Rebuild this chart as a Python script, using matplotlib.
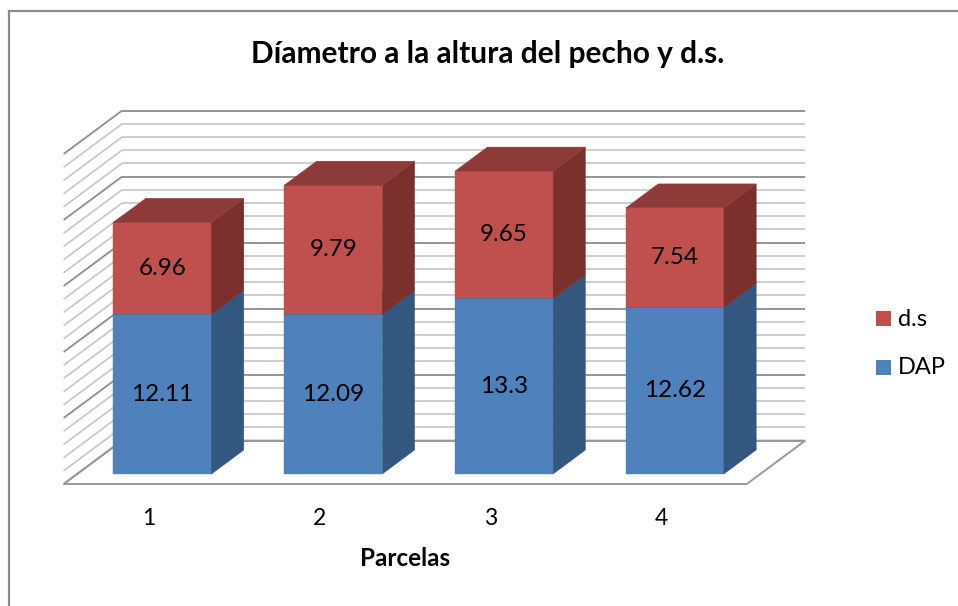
import matplotlib
matplotlib.use("Agg")
import matplotlib.pyplot as plt
from matplotlib.patches import Polygon, Rectangle
from matplotlib.lines import Line2D

plt.rcParams["font.family"] = ["Lato", "DejaVu Sans"]

parcelas = ["1", "2", "3", "4"]
dap = [12.11, 12.09, 13.3, 12.62]
ds = [6.96, 9.79, 9.65, 7.54]
series_names = ["DAP", "d.s"]
y_max = 25
title = "Díametro a la altura del pecho y d.s."
xlabel = "Parcelas"

W, H = 958, 606
# pixel scale of the plot: one category step and one value unit
PX_CAT = 170.8
PX_VAL = 13.2
X0_PX, Y0_PX = 162.5, 474.0

# oblique depth: one bar depth shifts this much in (category, value) units
DEPTH_DX = 32.3 / PX_CAT
DEPTH_DY = 24.0 / PX_VAL
FLOOR_FRONT = -0.417
FLOOR_BACK = 1.39
BAR_W = 0.574

blue = {"front": "#4F81BD", "side": "#34577F", "top": "#3F6797"}
red = {"front": "#C0504D", "side": "#7C302E", "top": "#8E3A38"}
grid_minor = "#C6C6C6"
grid_major = "#8E8E8E"


def proj(x, v, d):
    return (x + d * DEPTH_DX, v + d * DEPTH_DY)


def draw_box(ax, xc, v0, v1, colors, z):
    x0, x1 = xc - BAR_W / 2, xc + BAR_W / 2
    faces = [
        ([proj(x0, v0, 0), proj(x1, v0, 0), proj(x1, v1, 0), proj(x0, v1, 0)], colors["front"]),
        ([proj(x1, v0, 0), proj(x1, v0, 1), proj(x1, v1, 1), proj(x1, v1, 0)], colors["side"]),
        ([proj(x0, v1, 0), proj(x1, v1, 0), proj(x1, v1, 1), proj(x0, v1, 1)], colors["top"]),
    ]
    for pts, c in faces:
        ax.add_patch(Polygon(pts, closed=True, facecolor=c, edgecolor=c, lw=0.3, zorder=z))


fig = plt.figure(figsize=(W / 100, H / 100), dpi=100)
ax = fig.add_axes([0, 0, 1, 1])
ax.set_xlim(1 - X0_PX / PX_CAT, 1 + (W - X0_PX) / PX_CAT)
ax.set_ylim((Y0_PX - H) / PX_VAL, Y0_PX / PX_VAL)
ax.axis("off")

# walls: back and left gridlines
for v in range(0, y_max + 1):
    col = grid_major if v % 5 == 0 else grid_minor
    lw = 1.3 if v % 5 == 0 else 1.2
    bx = [proj(0.5, v, FLOOR_BACK), proj(4.5, v, FLOOR_BACK)]
    lx = [proj(0.5, v, FLOOR_FRONT), proj(0.5, v, FLOOR_BACK)]
    for seg in (bx, lx):
        ax.plot([p[0] for p in seg], [p[1] for p in seg], color=col, lw=lw,
                solid_capstyle="butt", zorder=1)

# floor outline
floor = [proj(0.5, 0, FLOOR_FRONT), proj(4.5, 0, FLOOR_FRONT),
         proj(4.5, 0, FLOOR_BACK), proj(0.5, 0, FLOOR_BACK)]
ax.add_patch(Polygon(floor, closed=True, facecolor="none", edgecolor="#9A9A9A",
                     lw=1.4, zorder=2))

# stacked bars with value labels
for i, (a, b) in enumerate(zip(dap, ds)):
    xc = i + 1
    draw_box(ax, xc, 0, a, blue, 3 + i)
    draw_box(ax, xc, a, a + b, red, 3 + i)
    ax.text(xc, a / 2, f"{a:g}", ha="center", va="center", fontsize=17.5, zorder=10)
    ax.text(xc, a + b / 2, f"{b:g}", ha="center", va="center", fontsize=17.5, zorder=10)

# category labels along the front edge of the floor
tick_off = (525 - 484) / PX_VAL
for i, lab in enumerate(parcelas):
    tx, ty = proj(i + 1, 0, FLOOR_FRONT)
    ax.text(tx, ty - tick_off, lab, ha="center", va="baseline", fontsize=16.5)

lx, ly = proj(2.5, 0, FLOOR_FRONT)
ax.text(lx, ly - (565.7 - 484) / PX_VAL, xlabel, ha="center", va="baseline",
        fontsize=17.5, fontweight="bold")

fig.text(487.5 / W, 1 - 63.3 / H, title, ha="center", va="baseline",
         fontsize=21.5, fontweight="bold")

# legend, d.s above DAP
for name, col, top_px, base_px in [(series_names[1], red["front"], 311, 326),
                                    (series_names[0], blue["front"], 359.5, 374.5)]:
    fig.add_artist(Rectangle((876 / W, 1 - (top_px + 15) / H), 14.7 / W, 15 / H,
                             transform=fig.transFigure, facecolor=col, edgecolor="none"))
    fig.text(898 / W, 1 - base_px / H, name, ha="left", va="baseline", fontsize=17)

# chart area border (top and left edges visible)
fig.add_artist(Line2D([8.7 / W, 8.7 / W], [0, 1 - 10.7 / H], color="#8A8A8A", lw=1.6,
                      transform=fig.transFigure))
fig.add_artist(Line2D([8.7 / W, 1], [1 - 10.7 / H, 1 - 10.7 / H], color="#8A8A8A", lw=1.6,
                      transform=fig.transFigure))

fig.savefig("out.png", dpi=100)
